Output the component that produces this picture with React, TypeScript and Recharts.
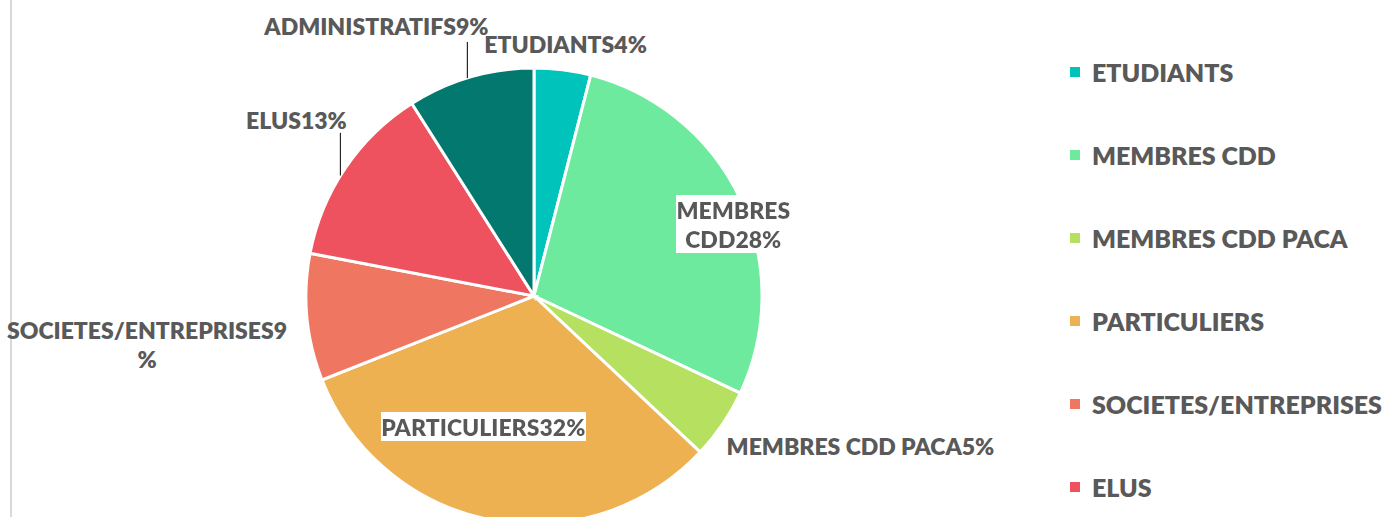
import React from 'react';
import { PieChart, Pie, Cell, Legend } from 'recharts';

const CATEGORIES = [
  'ETUDIANTS',
  'MEMBRES CDD',
  'MEMBRES CDD PACA',
  'PARTICULIERS',
  'SOCIETES/ENTREPRISES',
  'ELUS',
  'ADMINISTRATIFS',
];
const PERCENTS = [4, 28, 5, 32, 9, 13, 9];
const COLORS = ['#00C4BB', '#6DEA9E', '#B6E05F', '#EDB152', '#EF7762', '#EE525E', '#03786F'];

const FONT = "Lato, 'Open Sans', sans-serif";
const TEXT = '#595959';
const RADIAN = Math.PI / 180;

// label placement relative to the slice edge at mid angle
const LABEL_LAYOUT = [
  { dx: 3, dy: -26, anchor: 'middle' },
  { dx: -7, dy: 11, anchor: 'middle', split: 7, box: true },
  { dx: 4, dy: 22, anchor: 'start' },
  { dx: -8, dy: -93, anchor: 'middle', box: true },
  { dx: -160, dy: 13, anchor: 'middle', split: 21 },
  { dx: -49, dy: -48, anchor: 'middle', lx: -5, leaderTop: 13 },
  { dx: -94, dy: -51, anchor: 'middle', lx: -3, leaderTop: 16 },
];

const data = CATEGORIES.map((name, i) => ({ name, value: PERCENTS[i] }));

const renderLabel = (props: any) => {
  const { cx, cy, midAngle, outerRadius, index, name, percent } = props;
  const cfg: any = LABEL_LAYOUT[index];
  const ex = cx + outerRadius * Math.cos(-midAngle * RADIAN);
  const ey = cy + outerRadius * Math.sin(-midAngle * RADIAN);
  const full = `${name}${Math.round(percent * 100)}%`;
  const lines = cfg.split ? [full.slice(0, cfg.split).trim(), full.slice(cfg.split).trim()] : [full];
  const x = ex + cfg.dx;
  const y = ey + cfg.dy;
  let leader = null;
  if (cfg.leaderTop !== undefined) {
    const lxPos = ex + cfg.lx;
    const edgeY = cy - Math.sqrt(outerRadius * outerRadius - (lxPos - cx) * (lxPos - cx));
    leader = <line x1={lxPos} y1={edgeY} x2={lxPos} y2={y + cfg.leaderTop} stroke="#262626" strokeWidth={1.2} />;
  }
  return (
    <g key={`lbl-${index}`}>
      {leader}
      <text
        x={x}
        y={y}
        textAnchor={cfg.anchor}
        dominantBaseline="central"
        fill={TEXT}
        fontFamily={FONT}
        fontWeight={800}
        fontSize={23}
        filter={cfg.box ? 'url(#whiteBg)' : undefined}
      >
        {lines.map((t, i) => (
          <tspan key={i} x={x} dy={i === 0 ? 0 : 29}>
            {t}
          </tspan>
        ))}
      </text>
    </g>
  );
};

const renderLegend = (props: any) => {
  const items = [...(props.payload || [])].sort(
    (a: any, b: any) => CATEGORIES.indexOf(a.value) - CATEGORIES.indexOf(b.value)
  );
  return (
    <div style={{ fontFamily: FONT, fontWeight: 800, fontSize: 25, color: TEXT }}>
      {items.map((p: any, i: number) => (
        <div key={i} style={{ height: 83, display: 'flex', alignItems: 'center', whiteSpace: 'nowrap' }}>
          <span style={{ width: 10, height: 10, background: p.color, marginRight: 12, display: 'inline-block' }} />
          <span>{p.value}</span>
        </div>
      ))}
    </div>
  );
};

export default function App() {
  return (
    <div
      style={{
        position: 'absolute',
        left: 0,
        top: 0,
        width: 1391,
        height: 517,
        overflow: 'hidden',
        background: '#fff',
      }}
    >
      <div style={{ position: 'absolute', left: 10, top: 0, width: 2, height: 517, background: '#d9d9d9' }} />
      <PieChart width={1391} height={517} margin={{ top: 0, right: 0, bottom: 0, left: 0 }}>
        <defs>
          <filter id="whiteBg" x="0" y="0" width="1" height="1">
            <feFlood floodColor="#ffffff" />
            <feComposite in="SourceGraphic" operator="over" />
          </filter>
        </defs>
        <Pie
          data={data}
          dataKey="value"
          nameKey="name"
          cx={534}
          cy={296}
          outerRadius={228}
          startAngle={90}
          endAngle={-270}
          stroke="#ffffff"
          strokeWidth={3}
          label={renderLabel}
          labelLine={false}
          isAnimationActive={false}
        >
          {data.map((_, i) => (
            <Cell key={`cell-${i}`} fill={COLORS[i]} />
          ))}
        </Pie>
        <Legend
          content={renderLegend}
          layout="vertical"
          align="right"
          verticalAlign="top"
          wrapperStyle={{ position: 'absolute', left: 1070, top: 30, width: 330 }}
        />
      </PieChart>
    </div>
  );
}
